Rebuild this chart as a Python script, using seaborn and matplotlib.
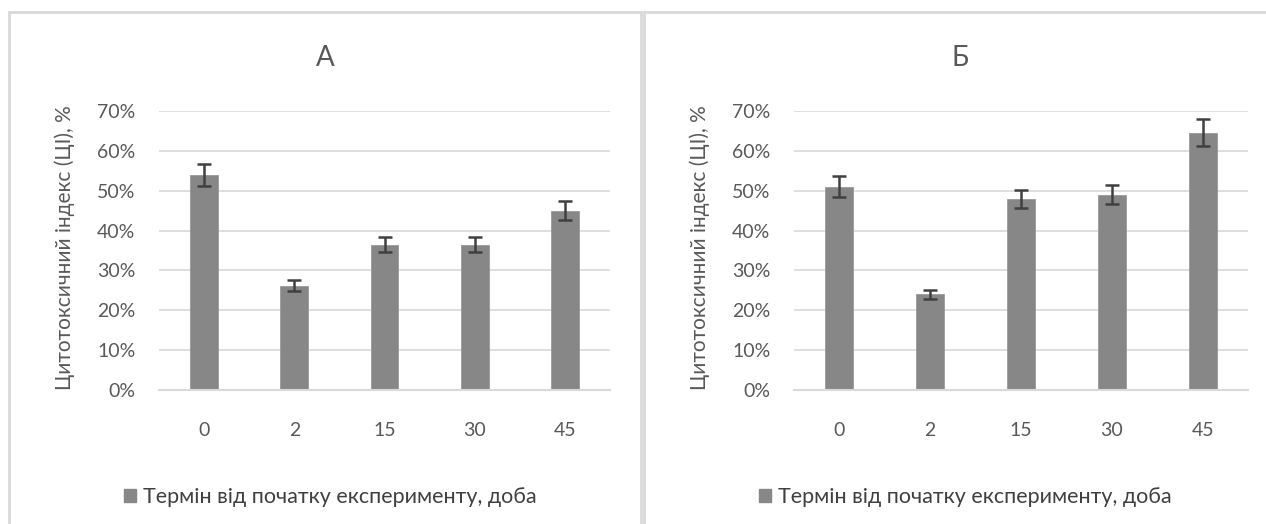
import matplotlib
matplotlib.use("Agg")
import matplotlib.pyplot as plt
from matplotlib.patches import Rectangle, Patch
from matplotlib.ticker import PercentFormatter, MultipleLocator
import seaborn as sns
import pandas as pd

# Days from the start of the experiment
days = ["0", "2", "15", "30", "45"]

# Cytotoxic index (%) and error, panel А
values_a = [54.0, 26.2, 36.5, 36.5, 45.0]
errors_a = [2.8, 1.4, 1.9, 1.9, 2.3]

# Cytotoxic index (%) and error, panel Б
values_b = [51.0, 24.0, 47.9, 49.0, 64.6]
errors_b = [2.7, 1.2, 2.3, 2.4, 3.3]

titles = ["А", "Б"]
ylabel = "Цитотоксичний індекс (ЦІ), %"
legend_label = "Термін від початку експерименту, доба"

BAR = "#878787"
ERR = "#404040"
GRID = "#d9d9d9"
TXT = "#595959"

sns.set_theme(style="white")
plt.rcParams["font.family"] = ["Lato", "DejaVu Sans"]

W, H = 1266, 524
fig = plt.figure(figsize=(W / 100, H / 100), dpi=100)

# panel frames
fig.add_artist(Rectangle((9 / W, -0.1), 632 / W, 1.1 - 12 / H, transform=fig.transFigure,
                         fill=False, edgecolor=GRID, linewidth=2))
fig.add_artist(Rectangle((644 / W, -0.1), 0.6, 1.1 - 12 / H, transform=fig.transFigure,
                         fill=False, edgecolor=GRID, linewidth=2))

panels = [
    dict(vals=values_a, errs=errors_a, left=159, right=610, center=330, tcenter=325,
         title=titles[0]),
    dict(vals=values_b, errs=errors_b, left=794, right=1248, center=965, tcenter=960,
         title=titles[1]),
]

bottom_px, top_px = 390, 111
for p in panels:
    ax = fig.add_axes([p["left"] / W, 1 - bottom_px / H,
                       (p["right"] - p["left"]) / W, (bottom_px - top_px) / H])
    df = pd.DataFrame({"day": days, "ci": p["vals"]})
    sns.barplot(data=df, x="day", y="ci", color=BAR, saturation=1, width=0.31,
                edgecolor="#9a9a9a", linewidth=0.6, ax=ax)
    ax.errorbar(range(len(days)), p["vals"], yerr=p["errs"], fmt="none",
                ecolor=ERR, elinewidth=1.8, capsize=5, capthick=1.8, zorder=3)
    ax.set_xlim(-0.5, len(days) - 0.5)
    ax.set_ylim(0, 70)
    ax.yaxis.set_major_locator(MultipleLocator(10))
    ax.yaxis.set_major_formatter(PercentFormatter(xmax=100, decimals=0))
    ax.grid(axis="y", color=GRID, linewidth=1.2)
    ax.set_axisbelow(True)
    for s in ["left", "right", "top"]:
        ax.spines[s].set_visible(False)
    ax.spines["bottom"].set_color(GRID)
    ax.spines["bottom"].set_linewidth(1.5)
    ax.tick_params(axis="both", length=0, labelsize=14, colors=TXT)
    ax.tick_params(axis="y", pad=17)
    ax.tick_params(axis="x", pad=23)
    ax.set_xlabel("")
    ax.set_ylabel(ylabel, fontsize=15, color=TXT)
    ax.yaxis.set_label_coords(-0.186, 0.51)

    fig.text(p["tcenter"] / W, 1 - 58 / H, p["title"], ha="center", va="center",
             fontsize=20, color=TXT)
    handle = Patch(facecolor=BAR, edgecolor=BAR)
    fig.legend([handle], [legend_label], loc="center",
               bbox_to_anchor=(p["center"] / W, 1 - 497 / H), frameon=False,
               fontsize=15.5, labelcolor="#404040", handlelength=0.6, handleheight=0.6,
               handletextpad=0.3)

fig.savefig("out.png", dpi=100, facecolor="white")
